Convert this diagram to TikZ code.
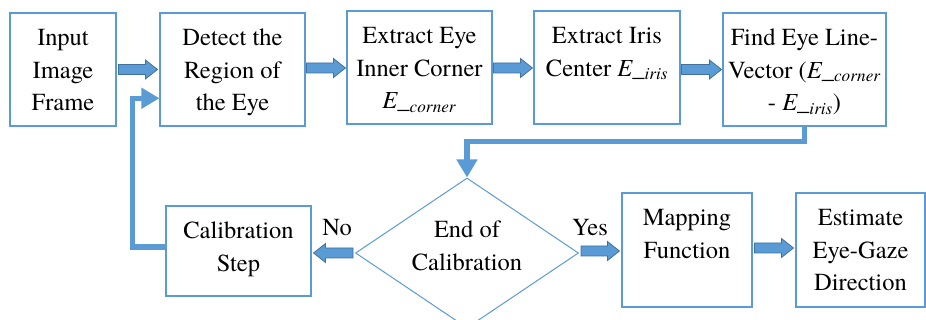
\documentclass[tikz,border=0pt]{standalone}
\usepackage{fontspec}
\setmainfont{texgyretermes-regular.otf}[ItalicFont=texgyretermes-italic.otf, BoldFont=texgyretermes-bold.otf]
\usetikzlibrary{shapes.geometric,arrows.meta,calc}
\definecolor{bl}{HTML}{5B9BD5}
\definecolor{bld}{HTML}{41719C}
\newcommand\bxtext[3]{\parbox[c][#2][t]{#1}{\centering\vspace*{10pt}\strut #3}}
\newcommand\Esub[1]{\textit{E\_}\textsubscript{\textit{#1}}}
\newcommand\barrow[2]{%
  \coordinate (ba) at (#1); \coordinate (bb) at (#2);
  \coordinate (bh) at ($(bb)!12pt!(ba)$);
  \filldraw[blockarr] ($(ba)!5pt!90:(bb)$) -- ($(bh)!5pt!90:(bb)$) -- ($(bh)!9.5pt!90:(bb)$) -- (bb)
    -- ($(bh)!9.5pt!-90:(bb)$) -- ($(bh)!5pt!-90:(bb)$) -- ($(ba)!5pt!-90:(bb)$) -- cycle;}
\tikzset{
  box/.style={draw=bl, line width=1.1pt, inner sep=0pt, font=\fontsize{24.5}{32.5}\selectfont},
  txt/.style={inner sep=0pt, align=center, font=\fontsize{24.5}{32.5}\selectfont},
  blockarr/.style={fill=bl, draw=bld, line width=0.8pt, line join=miter},
  fb/.style={draw=bl, line width=5.5pt, -{Triangle[length=18pt,width=20pt]}}
}
\begin{document}
\begin{tikzpicture}[x=1pt,y=-1pt]
\clip (0,0) rectangle (926,320);
\fill[white] (0,0) rectangle (926,320);
\node[box] (inp)  at (63,69.5)   {\bxtext{106pt}{113pt}{Input\\Image\\Frame}};
\node[box] (det)  at (232.5,69.5) {\bxtext{145pt}{113pt}{Detect the\\Region of\\the Eye}};
\node[box] (ext)  at (419.5,67.5) {\bxtext{145pt}{113pt}{Extract Eye\\Inner Corner\\\Esub{corner}}};
\node[box] (iris) at (607,67.5)  {\bxtext{146pt}{113pt}{Extract Iris\\Center \Esub{iris}}};
\node[box] (find) at (804.5,69.5) {\bxtext{163pt}{113pt}{Find Eye Line-\\Vector (\Esub{corner}\\- \Esub{iris})}};
\node[box] (cal)  at (238.5,251) {\bxtext{145pt}{90pt}{Calibration\\Step}};
\node[draw=bl, line width=1pt, diamond, aspect=1.5, inner sep=0pt, minimum width=223pt, minimum height=150pt] (dia) at (467,253) {};
\node[txt] (diat) at (467,246) {End of\\Calibration};
\node[box] (map)  at (687,250)   {\bxtext{130pt}{114pt}{Mapping\\Function}};
\node[box] (est)  at (860.5,250) {\bxtext{129pt}{114pt}{Estimate\\Eye-Gaze\\Direction}};
\node[txt] (no)  at (337,228) {No};
\node[txt] (yes) at (590,228) {Yes};
\barrow{$(inp.east)+(2,0)$}{$(inp.east -| det.west)+(-2,0)$}
\barrow{$(det.east)+(1,-1.5)$}{$(det.east -| ext.west)+(-1,-1.5)$}
\barrow{$(ext.east)+(1,0.5)$}{$(ext.east -| iris.west)+(-1,0.5)$}
\barrow{$(iris.east)+(1,2)$}{$(iris.east -| find.west)+(-1,2)$}
\barrow{$(dia.west)+(-2,0)$}{$(dia.west -| cal.east)+(2,0)$}
\barrow{$(dia.east)+(2,-2)$}{$(dia.east -| map.west)+(-2,-2)$}
\barrow{$(map.east)+(2,-2)$}{$(map.east -| est.west)+(-2,-2)$}
\coordinate (fbin) at ($(det.north west)!0.752!(det.south west)$);
\draw[fb] ([yshift=4pt]cal.west) -- ++(-33,0) |- (fbin);
\draw[fb] (find.south) -- ++(0,15) -| (dia.north);
\end{tikzpicture}
\end{document}
